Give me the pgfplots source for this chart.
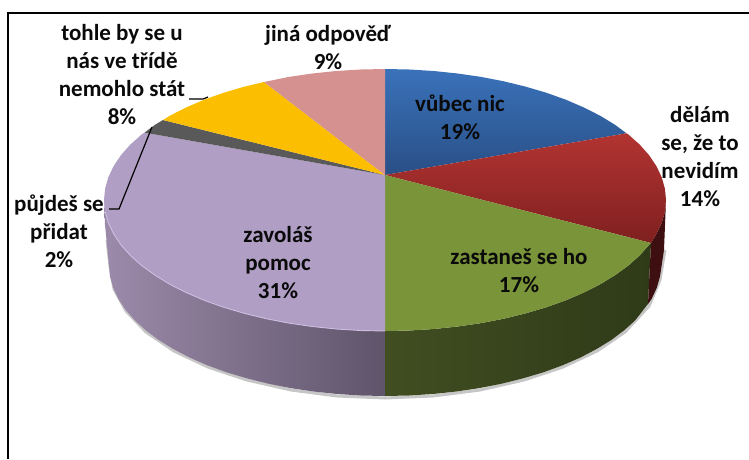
\documentclass[border=0pt]{standalone}
\usepackage{pgfplots}
\pgfplotsset{compat=1.18}
\usepackage{fontspec}
\setmainfont{Carlito}
\definecolor{cBlueT}{HTML}{3A72BA}
\definecolor{cBlueB}{HTML}{294F86}
\definecolor{cRedT}{HTML}{B23431}
\definecolor{cRedB}{HTML}{7F2020}
\definecolor{cGreen}{HTML}{7A9439}
\definecolor{cPurple}{HTML}{B09EC5}
\definecolor{cGray}{HTML}{595959}
\definecolor{cYellow}{HTML}{FBBE00}
\definecolor{cPink}{HTML}{D59190}
\definecolor{cPWL}{HTML}{9C8AAA}
\definecolor{cPWR}{HTML}{5F546A}
\definecolor{cGWL}{HTML}{414E21}
\definecolor{cGWR}{HTML}{2F3A18}
\definecolor{cRW}{HTML}{3E0F10}
\definecolor{cRim}{HTML}{CDBDE0}
\definecolor{cTxt}{HTML}{0A0A0A}
\tikzset{lab/.style={font=\bfseries\fontsize{23}{28}\selectfont, text=cTxt, align=center, inner sep=0pt}}
\begin{document}
\begin{tikzpicture}
\useasboundingbox (0pt,0pt) rectangle (749pt,459pt);
\begin{axis}[
  at={(0pt,0pt)}, anchor=south west,
  width=749pt, height=459pt, scale only axis,
  xmin=0, xmax=749, ymin=0, ymax=459, y dir=reverse,
  hide axis, no markers,
]
% frame
\addplot[black, line width=2.4pt, forget plot] coordinates {(8,459) (8,13) (749,13)};
% soft shadow
\addplot[gray, opacity=0.45, line width=3pt, forget plot] coordinates {(107,240)(110,266)(114,289)(126,311)(146,332)(174,351)(208,367)(247,380)(291,390)(337,396)(385,398)(433,396)(480,390)(524,380)(563,367)(597,351)(625,332)(649,306)(660,280)(665,250)};
% walls
\addplot[draw=none, left color=cPWL, right color=cPWR, forget plot] coordinates {
(104,200)(105.1,211.4)(108.3,222.7)(113.6,233.9)(120.9,244.8)(130.3,255.4)(141.6,265.5)(154.8,275.1)(169.7,284.2)(186.3,292.6)(204.4,300.4)(223.8,307.3)(244.5,313.4)(266.2,318.7)(288.9,323.1)(312.3,326.5)(336.2,329)(360.5,330.5)(385,331)
(385,396)(360.9,395.5)(337.1,394)(313.6,391.5)(290.6,388.1)(268.4,383.7)(247,378.4)(226.7,372.3)(207.6,365.4)(189.8,357.6)(173.6,349.2)(158.9,340.1)(146,330.5)(134.9,320.4)(125.6,309.8)(118.4,298.9)(113.2,287.7)(110,276.4)(109,265)(105,225)(104,200)};
\addplot[draw=none, left color=cGWL, right color=cGWR, forget plot] coordinates {
(385,331)(409.5,330.5)(433.8,329)(457.7,326.5)(481.1,323.1)(503.8,318.7)(525.5,313.4)(546.2,307.3)(565.6,300.4)(583.7,292.6)(600.3,284.2)(615.2,275.1)(628.4,265.5)(639.7,255.4)(649.1,244.8)(651,243)
(648,304)(635.1,320.4)(624,330.5)(611.1,340.1)(596.4,349.2)(580.2,357.6)(562.4,365.4)(543.3,372.3)(523,378.4)(501.6,383.7)(479.4,388.1)(456.4,391.5)(432.9,394)(409.1,395.5)(385,396)(385,331)};
\addplot[draw=none, fill=cRW, forget plot] coordinates {
(651,243)(656.4,233.9)(661.7,222.7)(664.9,211.4)(666,200)(664,250)(660,276.4)(656.8,287.7)(651.6,298.9)(648,304)(651,243)};
% top faces
\addplot[draw=none, top color=cBlueT, bottom color=cBlueB, forget plot] coordinates {
(385,175)(385,69)(409.5,69.5)(433.8,71)(457.7,73.5)(481.1,76.9)(503.8,81.3)(525.5,86.6)(546.2,92.7)(565.6,99.6)(583.7,107.4)(600.3,115.8)(615.2,124.9)(626.5,133.3)(385,175)};
\addplot[draw=none, top color=cRedT, bottom color=cRedB, forget plot] coordinates {
(385,175)(626.5,133.3)(628.4,134.5)(639.7,144.6)(649.1,155.2)(656.4,166.1)(661.7,177.3)(664.9,188.6)(666,200)(664.9,211.4)(661.7,222.7)(656.4,233.9)(651,243)(385,175)};
\addplot[draw=none, fill=cGreen, forget plot] coordinates {
(385,175)(651,243)(649.1,244.8)(639.7,255.4)(628.4,265.5)(615.2,275.1)(600.3,284.2)(583.7,292.6)(565.6,300.4)(546.2,307.3)(525.5,313.4)(503.8,318.7)(481.1,323.1)(457.7,326.5)(433.8,329)(409.5,330.5)(385,331)(385,175)};
\addplot[draw=none, fill=cPurple, forget plot] coordinates {
(385,175)(385,331)(360.5,330.5)(336.2,329)(312.3,326.5)(288.9,323.1)(266.2,318.7)(244.5,313.4)(223.8,307.3)(204.4,300.4)(186.3,292.6)(169.7,284.2)(154.8,275.1)(141.6,265.5)(130.3,255.4)(120.9,244.8)(113.6,233.9)(108.3,222.7)(105.1,211.4)(104,200)(105.1,188.6)(108.3,177.3)(113.6,166.1)(120.9,155.2)(130.3,144.6)(141.6,134.5)(144.5,132.6)(385,175)};
\addplot[draw=none, fill=cGray, forget plot] coordinates {
(385,175)(144.5,132.6)(154.8,124.9)(163,120)(385,175)};
\addplot[draw=none, fill=cYellow, forget plot] coordinates {
(385,175)(163,120)(169.7,115.8)(186.3,107.4)(204.4,99.6)(223.8,92.7)(244.5,86.6)(264,82)(385,175)};
\addplot[draw=none, fill=cPink, forget plot] coordinates {
(385,175)(264,82)(288.9,76.9)(312.3,73.5)(336.2,71)(360.5,69.5)(385,69)(385,175)};
% rim highlight
\addplot[cRim, line width=0.9pt, forget plot] coordinates {
(105.1,211.4)(108.3,222.7)(113.6,233.9)(120.9,244.8)(130.3,255.4)(141.6,265.5)(154.8,275.1)(169.7,284.2)(186.3,292.6)(204.4,300.4)(223.8,307.3)(244.5,313.4)(266.2,318.7)(288.9,323.1)(312.3,326.5)(336.2,329)(360.5,330.5)(385,331)};
% leader lines
\addplot[black, line width=1.2pt, forget plot] coordinates {(189,99)(203,99)(208,97)};
\addplot[black, line width=1.2pt, forget plot] coordinates {(109,209)(119,209)(152,127)};
% labels
\node[lab] at (axis cs:328,48) {jiná odpověď\\9\%};
\node[lab] at (axis cs:122,74.5) {tohle by se u\\nás ve třídě\\nemohlo stát\\8\%};
\node[lab] at (axis cs:59,231.5) {půjdeš se\\přidat\\2\%};
\node[lab] at (axis cs:460,117.5) {vůbec nic\\19\%};
\node[lab] at (axis cs:700,157) {dělám\\se, že to\\nevidím\\14\%};
\node[lab] at (axis cs:519,271) {zastaneš se ho\\17\%};
\node[lab] at (axis cs:278,262.5) {zavoláš\\pomoc\\31\%};
\end{axis}
\end{tikzpicture}
\end{document}
